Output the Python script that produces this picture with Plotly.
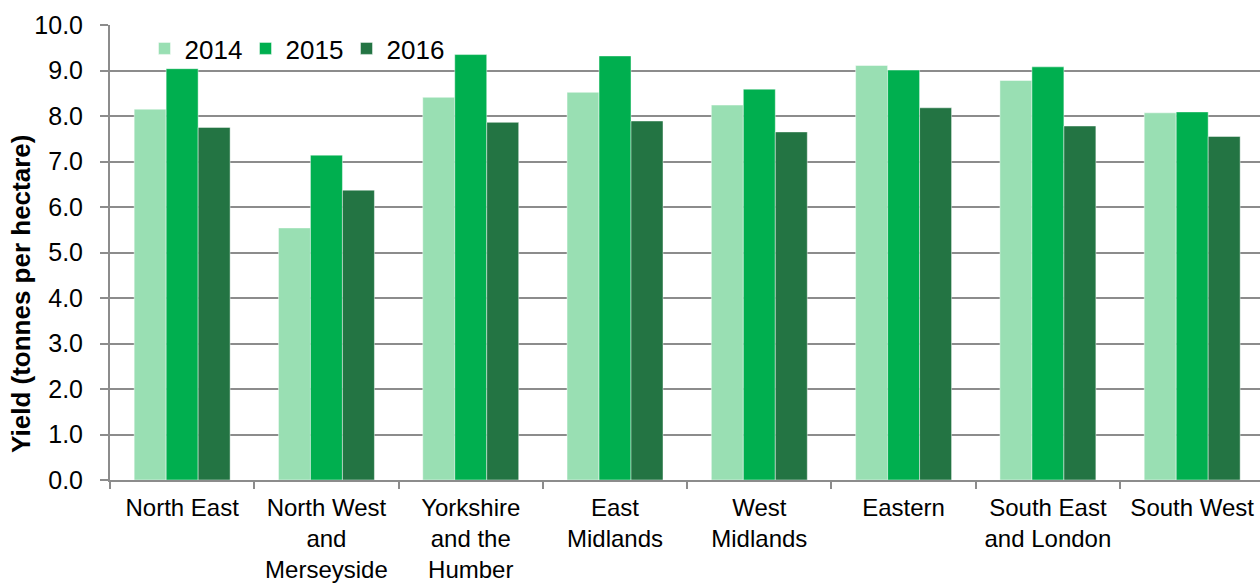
import plotly.graph_objects as go

# Regional yield, tonnes per hectare
regions = [
    "North East",
    "North West<br>and<br>Merseyside",
    "Yorkshire<br>and the<br>Humber",
    "East<br>Midlands",
    "West<br>Midlands",
    "Eastern",
    "South East<br>and London",
    "South West",
]
years = ["2014", "2015", "2016"]
yield_2014 = [8.15, 5.54, 8.41, 8.52, 8.24, 9.11, 8.78, 8.07]
yield_2015 = [9.04, 7.14, 9.35, 9.32, 8.59, 9.01, 9.08, 8.09]
yield_2016 = [7.75, 6.37, 7.86, 7.89, 7.65, 8.18, 7.78, 7.55]
y_ticks = [0, 1, 2, 3, 4, 5, 6, 7, 8, 9, 10]

series = [yield_2014, yield_2015, yield_2016]
colors = ["#99DFB3", "#00AF4F", "#237443"]

FONT = "Liberation Sans, Arial, sans-serif"
GRID = "#8C8C8C"

fig = go.Figure()
for name, vals, col in zip(years, series, colors):
    fig.add_trace(go.Bar(
        name=name,
        x=regions,
        y=vals,
        marker=dict(color=col, line=dict(color="rgba(255,255,255,0.45)", width=1)),
    ))

fig.update_layout(
    width=1260,
    height=586,
    margin=dict(l=110, r=0, t=25, b=106),
    paper_bgcolor="white",
    plot_bgcolor="white",
    barmode="group",
    bargap=0.335,
    bargroupgap=0,
    font=dict(family=FONT, size=25, color="#000000"),
    showlegend=True,
    legend=dict(
        orientation="h",
        x=0.03, xanchor="left",
        y=1.0, yanchor="top",
        bgcolor="rgba(0,0,0,0)",
        font=dict(family=FONT, size=26, color="#000000"),
        itemclick=False,
        traceorder="normal",
        entrywidth=56,
        entrywidthmode="pixels",
        tracegroupgap=0,
    ),
    xaxis=dict(
        range=[-0.5, 7.47],
        automargin=False,
        showline=True,
        linecolor=GRID,
        linewidth=2,
        ticks="outside",
        tickson="boundaries",
        ticklen=7,
        tickcolor=GRID,
        tickwidth=1.5,
        ticklabelstandoff=5,
        tickfont=dict(family=FONT, size=24, color="#000000"),
        showgrid=False,
        zeroline=False,
        fixedrange=True,
    ),
    yaxis=dict(
        range=[0, 10],
        automargin=False,
        tickvals=y_ticks,
        tickformat=".1f",
        showline=True,
        linecolor=GRID,
        linewidth=2,
        ticks="outside",
        ticklen=8,
        tickcolor=GRID,
        tickwidth=1.5,
        ticklabelstandoff=12,
        tickfont=dict(family=FONT, size=25, color="#000000"),
        showgrid=True,
        gridcolor=GRID,
        gridwidth=1.5,
        zeroline=False,
        fixedrange=True,
    ),
    annotations=[dict(
        text="<b>Yield (tonnes per hectare)</b>",
        textangle=-90,
        xref="paper", yref="paper",
        x=-0.077, y=0.41,
        xanchor="center", yanchor="middle",
        showarrow=False,
        font=dict(family=FONT, size=26, color="#000000"),
    )],
)

fig.write_html("out.html", config={"displayModeBar": False})
